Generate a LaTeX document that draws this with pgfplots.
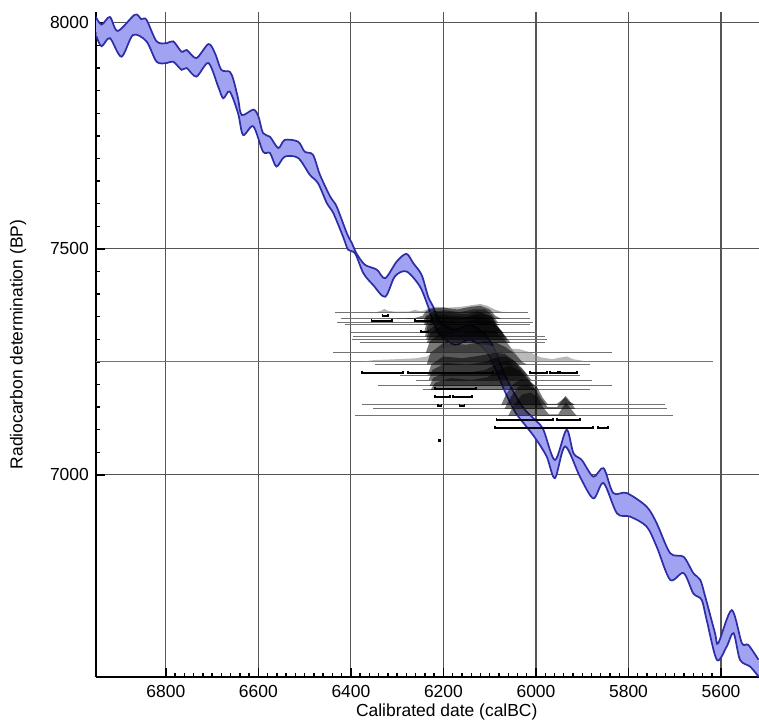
\documentclass[border=0pt]{standalone}
\usepackage{fontspec}
\setmainfont{Liberation Sans}
\usepackage{pgfplots}
\pgfplotsset{compat=1.18}

\definecolor{calfill}{RGB}{162,162,242}
\definecolor{calline}{RGB}{45,45,165}
\definecolor{gridc}{RGB}{85,85,85}

\pgfplotsset{
  dateline/.style={black!55, line width=0.5pt, forget plot},
  dist/.style={draw=none, fill=black, fill opacity=0.52, forget plot},
  brk/.style={black, line width=0.8pt, forget plot},
}

\begin{document}
\fontsize{9.2}{11}\selectfont
\begin{tikzpicture}
\path[use as bounding box] (-50.6pt,-23.7pt) rectangle (349.4pt,356.8pt);
\begin{axis}[
    at={(0,0)}, anchor=south west,
    scale only axis,
    width=349.4pt, height=350.5pt,
    x dir=reverse,
    xmin=5518, xmax=6951,
    ymin=6553, ymax=8024,
    axis x line=bottom, axis y line=left,
    axis line style={black, line width=1.1pt, -},
    xtick={5600,5800,...,6800},
    ytick={7000,7500,8000},
    minor x tick num=9,
    minor y tick num=9,
    tick align=inside,
    major tick length=5pt, minor tick length=2.2pt,
    tick style={black, line width=0.75pt},
    grid=major,
    major grid style={gridc, line width=0.6pt},
    /pgf/number format/set thousands separator={},
    /pgf/number format/assume math mode=true,
    ticklabel style={font=\fontsize{9.2}{11}\selectfont},
    xticklabel style={yshift=-1pt},
    yticklabel style={xshift=-0.5pt},
    xlabel={Calibrated date (calBC)},
    ylabel={Radiocarbon determination (BP)},
    xlabel style={at={(axis description cs:0.529,-0.0525)}, anchor=center},
    ylabel style={at={(axis description cs:-0.1176,0.5)}, anchor=center},
    label style={font=\fontsize{9.2}{11}\selectfont},
]
% calibration curve band (upper edge, then lower edge back)
\addplot[draw=none, fill=calfill, smooth, forget plot] coordinates {
(6952,8014)(6939,7996)(6921,8013)(6904,7982)(6867,8018)(6853,8008)(6842,8007)
(6820,7959)(6798,7955)(6784,7959)(6766,7936)(6755,7940)(6734,7922)(6708,7953)
(6694,7933)(6680,7896)(6662,7892)(6654,7874)(6644,7833)(6636,7796)(6611,7808)
(6600,7793)(6590,7756)(6575,7748)(6557,7723)(6543,7741)(6514,7737)(6500,7715)
(6482,7708)(6467,7664)(6445,7616)(6431,7594)(6409,7535)(6398,7513)(6388,7490)
(6370,7465)(6344,7454)(6326,7435)(6301,7472)(6280,7489)(6265,7468)(6247,7442)
(6233,7394)(6222,7372)(6208,7338)(6175,7321)(6143,7332)(6110,7310)(6089,7277)
(6067,7221)(6045,7177)(6024,7144)(6002,7122)(5984,7100)(5959,7033)(5934,7100)
(5919,7048)(5901,7033)(5876,6996)(5854,7015)(5833,6960)(5804,6960)(5761,6930)
(5739,6893)(5710,6827)(5681,6819)(5660,6783)(5645,6768)(5635,6734)(5613,6650)
(5606,6628)(5577,6701)(5555,6628)(5541,6624)(5519,6591)
(5519,6554)(5537,6576)(5559,6591)(5573,6650)(5588,6620)(5609,6591)(5631,6679)
(5642,6724)(5660,6738)(5681,6783)(5710,6768)(5739,6841)(5761,6886)(5797,6908)
(5825,6915)(5854,6982)(5876,6948)(5905,6996)(5937,7063)(5959,6993)(5977,7041)
(6002,7082)(6024,7111)(6045,7139)(6067,7184)(6089,7237)(6110,7277)(6143,7299)
(6175,7288)(6208,7310)(6226,7350)(6233,7372)(6251,7417)(6280,7450)(6305,7439)
(6326,7394)(6352,7420)(6373,7446)(6391,7490)(6406,7498)(6417,7527)(6438,7579)
(6452,7601)(6471,7645)(6489,7664)(6514,7701)(6543,7704)(6561,7682)(6575,7712)
(6590,7715)(6611,7771)(6633,7752)(6644,7800)(6662,7848)(6676,7833)(6687,7859)
(6708,7911)(6734,7881)(6755,7900)(6766,7896)(6784,7914)(6798,7911)(6820,7914)
(6842,7959)(6871,7973)(6896,7925)(6921,7966)(6939,7948)(6950,7970)
};
\addplot[calline, line width=0.9pt, smooth, forget plot] coordinates {
(6952,8014)(6939,7996)(6921,8013)(6904,7982)(6867,8018)(6853,8008)(6842,8007)
(6820,7959)(6798,7955)(6784,7959)(6766,7936)(6755,7940)(6734,7922)(6708,7953)
(6694,7933)(6680,7896)(6662,7892)(6654,7874)(6644,7833)(6636,7796)(6611,7808)
(6600,7793)(6590,7756)(6575,7748)(6557,7723)(6543,7741)(6514,7737)(6500,7715)
(6482,7708)(6467,7664)(6445,7616)(6431,7594)(6409,7535)(6398,7513)(6388,7490)
(6370,7465)(6344,7454)(6326,7435)(6301,7472)(6280,7489)(6265,7468)(6247,7442)
(6233,7394)(6222,7372)(6208,7338)(6175,7321)(6143,7332)(6110,7310)(6089,7277)
(6067,7221)(6045,7177)(6024,7144)(6002,7122)(5984,7100)(5959,7033)(5934,7100)
(5919,7048)(5901,7033)(5876,6996)(5854,7015)(5833,6960)(5804,6960)(5761,6930)
(5739,6893)(5710,6827)(5681,6819)(5660,6783)(5645,6768)(5635,6734)(5613,6650)
(5606,6628)(5577,6701)(5555,6628)(5541,6624)(5519,6591)
};
\addplot[calline, line width=0.9pt, smooth, forget plot] coordinates {
(6950,7970)(6939,7948)(6921,7966)(6896,7925)(6871,7973)(6842,7959)(6820,7914)
(6798,7911)(6784,7914)(6766,7896)(6755,7900)(6734,7881)(6708,7911)(6687,7859)
(6676,7833)(6662,7848)(6644,7800)(6633,7752)(6611,7771)(6590,7715)(6575,7712)
(6561,7682)(6543,7704)(6514,7701)(6489,7664)(6471,7645)(6452,7601)(6438,7579)
(6417,7527)(6406,7498)(6391,7490)(6373,7446)(6352,7420)(6326,7394)(6305,7439)
(6280,7450)(6251,7417)(6233,7372)(6226,7350)(6208,7310)(6175,7288)(6143,7299)
(6110,7277)(6089,7237)(6067,7184)(6045,7139)(6024,7111)(6002,7082)(5977,7041)
(5959,6993)(5937,7063)(5905,6996)(5876,6948)(5854,6982)(5825,6915)(5797,6908)
(5761,6886)(5739,6841)(5710,6768)(5681,6783)(5660,6738)(5642,6724)(5631,6679)
(5609,6591)(5588,6620)(5573,6650)(5559,6591)(5537,6576)(5519,6554)
};

% radiocarbon determinations: baselines
\addplot[dateline] coordinates {(6435,7360)(6017,7360)};
\addplot[dateline] coordinates {(6422,7345)(6013,7345)};
\addplot[dateline] coordinates {(6430,7337)(6007,7337)};
\addplot[dateline] coordinates {(6413,7332)(6013,7332)};
\addplot[dateline] coordinates {(6402,7314)(5998,7314)};
\addplot[dateline] coordinates {(6396,7306)(5981,7306)};
\addplot[dateline] coordinates {(6398,7299)(5976,7299)};
\addplot[dateline] coordinates {(6381,7292)(5981,7292)};
\addplot[dateline] coordinates {(6439,7270)(5836,7270)};
\addplot[dateline] coordinates {(6951,7250)(5617,7250)};
\addplot[dateline] coordinates {(6348,7244.5)(5883,7244.5)};
\addplot[dateline] coordinates {(6294,7221)(5905,7221)};
\addplot[dateline] coordinates {(6260,7210)(5879,7210)};
\addplot[dateline] coordinates {(6342,7197)(5836,7197)};
\addplot[dateline] coordinates {(6244,7188)(5883,7188)};
\addplot[dateline] coordinates {(6376,7155)(5721,7155)};
\addplot[dateline] coordinates {(6352,7146)(5717,7146)};
\addplot[dateline] coordinates {(6391,7130.5)(5704,7130.5)};

% calibrated distributions
\addplot[draw=none, fill=black, fill opacity=0.3, forget plot] coordinates {(6345,7360)(6335,7363)(6328,7367)(6320,7363)(6305,7361)(6275,7361)(6262,7365)(6250,7362)(6240,7364)(6232,7368)(6215,7372)(6190,7370)(6160,7372)(6135,7376)(6120,7378)(6105,7374)(6090,7366)(6075,7361)(6060,7360)};
\addplot[dist] coordinates {(6335,7345)(6262,7347)(6245,7352)(6238,7362)(6225,7368)(6200,7370)(6170,7366)(6140,7372)(6120,7374)(6100,7366)(6088,7352)(6075,7345)};
\addplot[dist] coordinates {(6245,7337)(6238,7352)(6222,7362)(6195,7364)(6165,7360)(6135,7366)(6110,7366)(6095,7354)(6082,7337)};
\addplot[dist] coordinates {(6242,7332)(6236,7350)(6215,7360)(6185,7358)(6150,7356)(6125,7362)(6098,7352)(6085,7335)(6078,7332)};
\addplot[dist] coordinates {(6242,7314)(6236,7338)(6215,7355)(6180,7352)(6150,7350)(6120,7358)(6095,7350)(6080,7325)(6070,7314)};
\addplot[dist] coordinates {(6240,7306)(6234,7330)(6210,7350)(6170,7346)(6130,7352)(6100,7346)(6080,7325)(6068,7306)};
\addplot[dist] coordinates {(6238,7299)(6230,7322)(6205,7342)(6160,7338)(6125,7345)(6095,7340)(6075,7318)(6062,7299)};
\addplot[dist] coordinates {(6236,7292)(6228,7314)(6200,7334)(6150,7330)(6115,7338)(6090,7334)(6070,7312)(6055,7292)};
\addplot[dist] coordinates {(6238,7270)(6230,7295)(6205,7315)(6160,7312)(6120,7320)(6090,7318)(6068,7300)(6052,7278)(6045,7270)};
\addplot[draw=none, fill=black!45, fill opacity=0.6, forget plot] coordinates {(6380,7250)(6350,7254)(6300,7256)(6260,7258)(6235,7262)(6220,7275)(6180,7285)(6130,7290)(6090,7285)(6060,7280)(6035,7278)(6015,7272)(5990,7260)(5965,7256)(5945,7260)(5933,7262)(5920,7256)(5890,7251)(5860,7250)};
\addplot[dist] coordinates {(6236,7244.5)(6228,7270)(6200,7292)(6150,7288)(6110,7296)(6085,7292)(6065,7282)(6045,7268)(6030,7250)(6020,7244.5)};
\addplot[dist] coordinates {(6234,7221)(6226,7245)(6200,7262)(6160,7258)(6120,7264)(6090,7270)(6068,7268)(6050,7255)(6030,7236)(6018,7221)};
\addplot[dist] coordinates {(6232,7210)(6224,7232)(6195,7248)(6150,7244)(6110,7250)(6085,7260)(6065,7262)(6045,7250)(6025,7228)(6010,7210)};
\addplot[dist] coordinates {(6230,7197)(6222,7215)(6190,7228)(6150,7226)(6110,7232)(6085,7245)(6062,7252)(6040,7240)(6020,7218)(6005,7197)};
\addplot[dist] coordinates {(6228,7188)(6218,7204)(6185,7214)(6140,7210)(6105,7216)(6080,7232)(6058,7242)(6035,7230)(6015,7208)(6000,7188)};
\addplot[dist] coordinates {(6075,7155)(6065,7178)(6050,7200)(6032,7212)(6015,7208)(5998,7195)(5985,7170)(5975,7157)(5955,7157)(5945,7165)(5937,7172)(5928,7162)(5915,7155)};
\addplot[dist] coordinates {(6068,7146)(6055,7172)(6038,7195)(6020,7200)(6002,7190)(5988,7168)(5975,7150)(5955,7150)(5945,7162)(5936,7175)(5926,7162)(5915,7146)};
\addplot[dist] coordinates {(6060,7130.5)(6048,7155)(6030,7178)(6012,7182)(5996,7172)(5985,7150)(5972,7134)(5952,7134)(5942,7150)(5935,7160)(5926,7148)(5912,7130.5)};

% ranges
\addplot[brk] coordinates {(6332,7355)(6332,7351)(6320,7351)(6320,7355)};
\addplot[brk] coordinates {(6356,7344)(6356,7340)(6311,7340)(6311,7344)};
\addplot[brk] coordinates {(6262,7344)(6262,7340)(6225,7340)(6225,7344)};
\addplot[brk] coordinates {(6248,7320)(6248,7316)(6232,7316)(6232,7320)};
\addplot[brk] coordinates {(6376,7230)(6376,7226)(6288,7226)(6288,7230)};
\addplot[brk] coordinates {(6277,7230)(6277,7226)(6093,7226)(6093,7230)};
\addplot[brk] coordinates {(6013,7230)(6013,7226)(5976,7226)(5976,7230)};
\addplot[brk] coordinates {(5970,7230)(5970,7226)(5952,7226)(5952,7230)};
\addplot[brk] coordinates {(5948,7230)(5948,7226)(5911,7226)(5911,7230)};
\addplot[brk] coordinates {(6218,7194)(6218,7190)(6130,7190)(6130,7194)};
\addplot[brk] coordinates {(6218,7176)(6218,7172)(6186,7172)(6186,7176)};
\addplot[brk] coordinates {(6179,7176)(6179,7172)(6138,7172)(6138,7176)};
\addplot[brk] coordinates {(6212,7156)(6212,7152)(6204,7152)(6204,7156)};
\addplot[brk] coordinates {(6165,7156)(6165,7152)(6155,7152)(6155,7156)};
\addplot[brk] coordinates {(6085,7126)(6085,7122)(5963,7122)(5963,7126)};
\addplot[brk] coordinates {(5955,7126)(5955,7122)(5905,7122)(5905,7126)};
\addplot[brk] coordinates {(6089,7108)(6089,7104)(5877,7104)(5877,7108)};
\addplot[brk] coordinates {(5866,7108)(5866,7104)(5844,7104)(5844,7108)};
\addplot[brk] coordinates {(6210,7079)(6210,7075)(6206,7075)(6206,7079)};
\end{axis}
\end{tikzpicture}
\end{document}
